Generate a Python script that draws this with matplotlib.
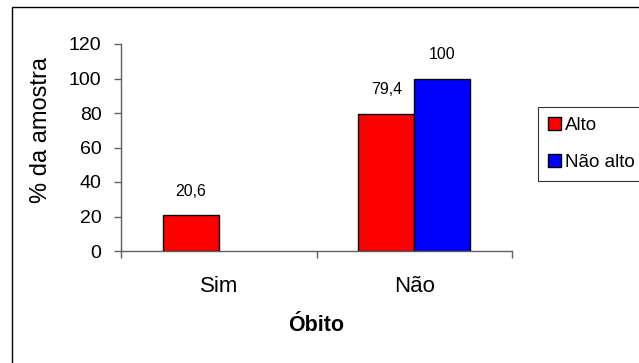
import matplotlib
matplotlib.use("Agg")
import matplotlib.pyplot as plt
from matplotlib.patches import Patch, Rectangle
import numpy as np

plt.rcParams['font.family'] = ['Liberation Sans', 'DejaVu Sans']

categories = ["Sim", "Não"]
series_names = ["Alto", "Não alto"]
alto = [20.6, 79.4]
nao_alto = [0, 100]
alto_labels = ["20,6", "79,4"]
nao_alto_labels = [None, "100"]
y_ticks = [0, 20, 40, 60, 80, 100, 120]

fig = plt.figure(figsize=(6.39, 3.63), dpi=100)

# outer chart-area frame (runs off the right and bottom edges)
frame = Rectangle((12 / 639, -0.2), 1.2, 1.2 - 7 / 363,
                  transform=fig.transFigure, fill=False,
                  edgecolor="black", linewidth=1.0)
fig.patches.append(frame)

ax = fig.add_axes([121 / 639, 1 - 251 / 363, (512 - 121) / 639, (251 - 44) / 363])

x = np.arange(len(categories))
w = 0.287
bars_a = ax.bar(x - w / 2, alto, w, color="#FF0000", edgecolor="black", linewidth=1.0)
bars_b = ax.bar(x + w / 2, nao_alto, w, color="#0000FF", edgecolor="black", linewidth=1.0)

for bars, vals, labs in ((bars_a, alto, alto_labels), (bars_b, nao_alto, nao_alto_labels)):
    for b, v, lab in zip(bars, vals, labs):
        if v == 0:
            b.set_visible(False)
        if lab is None:
            continue
        ax.annotate(lab, (b.get_x() + b.get_width() / 2, v), xytext=(0, 12),
                    textcoords="offset points", ha="center", va="bottom", fontsize=11.5)

ax.set_xlim(-0.5, len(categories) - 0.5)
ax.set_ylim(0, 120)
ax.set_yticks(y_ticks)
ax.set_yticklabels([str(t) for t in y_ticks], fontsize=14)
ax.set_xticks(x)
ax.set_xticklabels(categories, fontsize=16)
ax.set_xticks(np.arange(-0.5, len(categories)), minor=True)
ax.tick_params(axis="x", which="major", length=0, pad=18)
ax.tick_params(axis="x", which="minor", length=5, width=1, color="#606060", direction="out")
ax.tick_params(axis="y", length=5, width=1, color="#606060", direction="out", pad=9)

for s in ("top", "right"):
    ax.spines[s].set_visible(False)
for s in ("left", "bottom"):
    ax.spines[s].set_color("#606060")
    ax.spines[s].set_linewidth(1.0)

ax.set_ylabel("% da amostra", fontsize=17)
ax.yaxis.set_label_coords((52 - 121) / 391, (251 - 130) / 207)
ax.set_xlabel("Óbito", fontsize=15.5, fontweight="bold", labelpad=13)

handles = [Patch(facecolor="#FF0000", edgecolor="black", linewidth=1.0),
           Patch(facecolor="#0000FF", edgecolor="black", linewidth=1.0)]
leg = fig.legend(handles, series_names, loc="upper left",
                 bbox_to_anchor=(538 / 639, 1 - 107 / 363),
                 fontsize=13.5, frameon=True, fancybox=False,
                 handlelength=0.65, handleheight=0.65, handletextpad=0.25,
                 borderpad=0.55, labelspacing=1.05, borderaxespad=0)
leg.get_frame().set_edgecolor("black")
leg.get_frame().set_linewidth(0.8)

fig.savefig("out.png", dpi=100)
